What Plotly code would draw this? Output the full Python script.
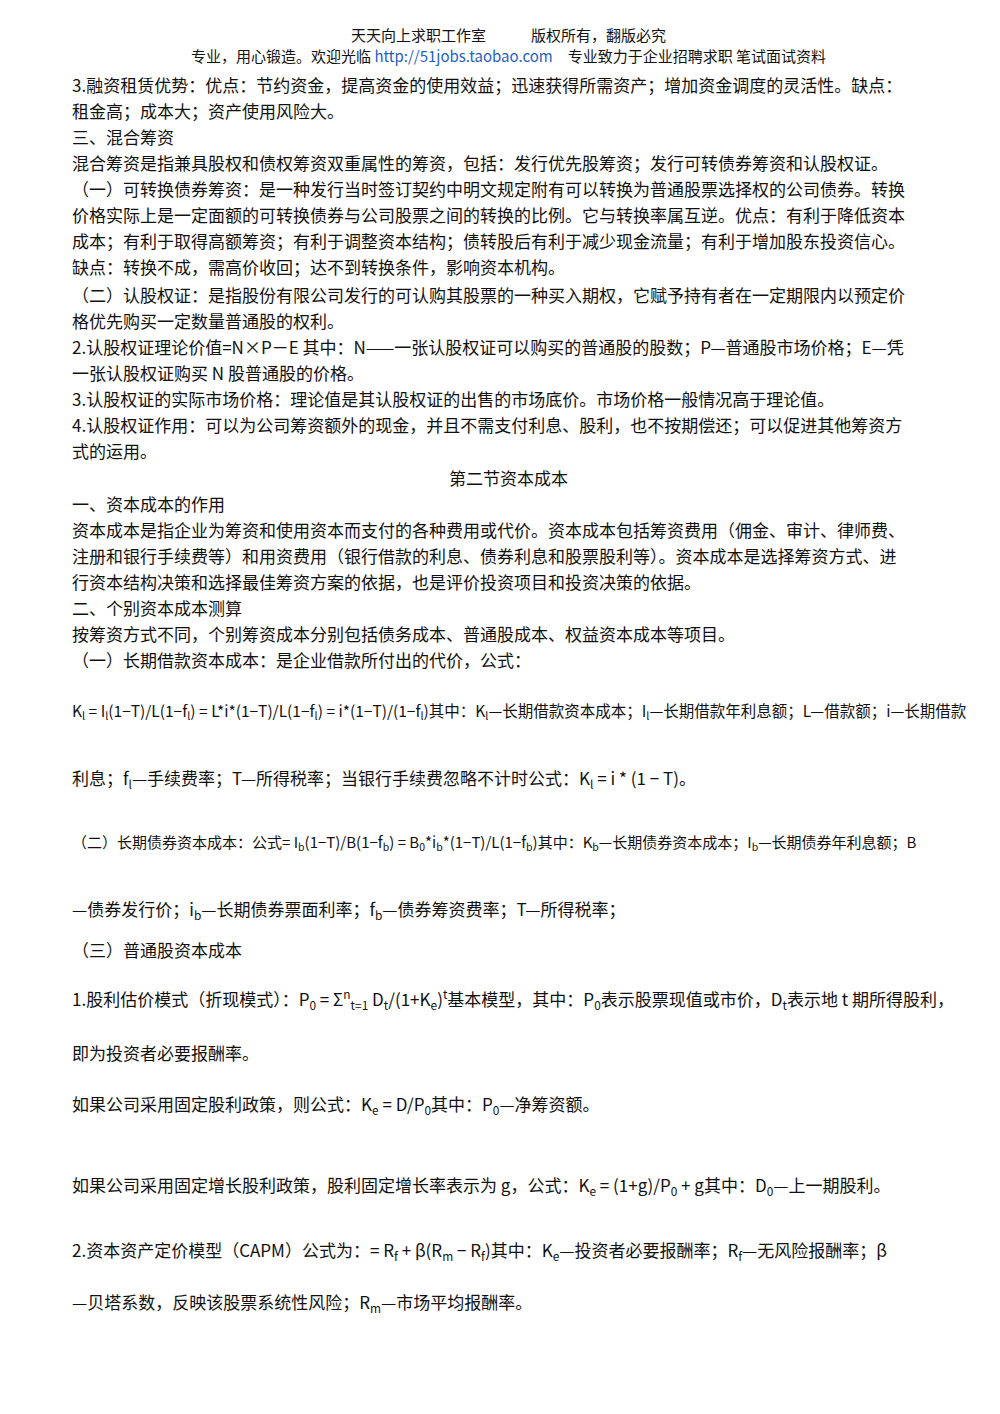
import plotly.graph_objects as go

# page header
header_lines = [
    "天天向上求职工作室　　　版权所有，翻版必究",
    "专业，用心锻造。欢迎光临 <span style='color:#1f5fbf'>http://51jobs.taobao.com</span>　专业致力于企业招聘求职 笔试面试资料",
]
header_y = [35, 56]

# body text lines (left aligned)
body_lines = [
    "3.融资租赁优势：优点：节约资金，提高资金的使用效益；迅速获得所需资产；增加资金调度的灵活性。缺点：",
    "租金高；成本大；资产使用风险大。",
    "三、混合筹资",
    "混合筹资是指兼具股权和债权筹资双重属性的筹资，包括：发行优先股筹资；发行可转债券筹资和认股权证。",
    "（一）可转换债券筹资：是一种发行当时签订契约中明文规定附有可以转换为普通股票选择权的公司债券。转换",
    "价格实际上是一定面额的可转换债券与公司股票之间的转换的比例。它与转换率属互逆。优点：有利于降低资本",
    "成本；有利于取得高额筹资；有利于调整资本结构；债转股后有利于减少现金流量；有利于增加股东投资信心。",
    "缺点：转换不成，需高价收回；达不到转换条件，影响资本机构。",
    "（二）认股权证：是指股份有限公司发行的可认购其股票的一种买入期权，它赋予持有者在一定期限内以预定价",
    "格优先购买一定数量普通股的权利。",
    "2.认股权证理论价值=N×P－E 其中：N——一张认股权证可以购买的普通股的股数；P—普通股市场价格；E—凭",
    "一张认股权证购买 N 股普通股的价格。",
    "3.认股权证的实际市场价格：理论值是其认股权证的出售的市场底价。市场价格一般情况高于理论值。",
    "4.认股权证作用：可以为公司筹资额外的现金，并且不需支付利息、股利，也不按期偿还；可以促进其他筹资方",
    "式的运用。",
    "一、资本成本的作用",
    "资本成本是指企业为筹资和使用资本而支付的各种费用或代价。资本成本包括筹资费用（佣金、审计、律师费、",
    "注册和银行手续费等）和用资费用（银行借款的利息、债券利息和股票股利等）。资本成本是选择筹资方式、进",
    "行资本结构决策和选择最佳筹资方案的依据，也是评价投资项目和投资决策的依据。",
    "二、个别资本成本测算",
    "按筹资方式不同，个别筹资成本分别包括债务成本、普通股成本、权益资本成本等项目。",
    "（一）长期借款资本成本：是企业借款所付出的代价，公式：",
    "K<sub>l</sub> = I<sub>l</sub>(1−T)/L(1−f<sub>l</sub>) = L*i*(1−T)/L(1−f<sub>l</sub>) = i*(1−T)/(1−f<sub>l</sub>)其中：K<sub>l</sub>—长期借款资本成本；I<sub>l</sub>—长期借款年利息额；L—借款额；i—长期借款",
    "利息；f<sub>l</sub>—手续费率；T—所得税率；当银行手续费忽略不计时公式：K<sub>l</sub> = i * (1 − T)。",
    "（二）长期债券资本成本：公式= I<sub>b</sub>(1−T)/B(1−f<sub>b</sub>) = B<sub>0</sub>*i<sub>b</sub>*(1−T)/L(1−f<sub>b</sub>)其中：K<sub>b</sub>—长期债券资本成本；I<sub>b</sub>—长期债券年利息额；B",
    "—债券发行价；i<sub>b</sub>—长期债券票面利率；f<sub>b</sub>—债券筹资费率；T—所得税率；",
    "（三）普通股资本成本",
    "1.股利估价模式（折现模式）：P<sub>0</sub> = Σ<sup>n</sup><sub>t=1</sub> D<sub>t</sub>/(1+K<sub>e</sub>)<sup>t</sup>基本模型，其中：P<sub>0</sub>表示股票现值或市价，D<sub>t</sub>表示地 t 期所得股利，",
    "即为投资者必要报酬率。",
    "如果公司采用固定股利政策，则公式：K<sub>e</sub> = D/P<sub>0</sub>其中：P<sub>0</sub>—净筹资额。",
    "如果公司采用固定增长股利政策，股利固定增长率表示为 g，公式：K<sub>e</sub> = (1+g)/P<sub>0</sub> + g其中：D<sub>0</sub>—上一期股利。",
    "2.资本资产定价模型（CAPM）公式为：= R<sub>f</sub> + β(R<sub>m</sub> − R<sub>f</sub>)其中：K<sub>e</sub>—投资者必要报酬率；R<sub>f</sub>—无风险报酬率；β",
    "—贝塔系数，反映该股票系统性风险；R<sub>m</sub>—市场平均报酬率。",
]
body_y = [85, 111, 137, 163, 189, 215, 241, 267, 295, 321, 347, 373, 399, 425, 451,
          504, 530, 556, 582, 608, 634, 660, 712, 779, 843, 910, 950, 1000, 1053,
          1105, 1186, 1251, 1303]
body_size = [17] * len(body_lines)
body_size[22] = 15.5
body_size[24] = 15

section_title = "第二节资本成本"
section_y = 478

XS, YS = -10, 9

fig = go.Figure()
annotations = []
for txt, y in zip(header_lines, header_y):
    annotations.append(dict(x=500, y=y, text=txt, showarrow=False, xanchor="center",
                            yanchor="middle", xshift=0, yshift=YS,
                            font=dict(size=15, color="#111")))
for txt, y, s in zip(body_lines, body_y, body_size):
    annotations.append(dict(x=72, y=y, text=txt, showarrow=False, xanchor="left",
                            yanchor="middle", xshift=XS, yshift=YS,
                            font=dict(size=s, color="#111")))
annotations.append(dict(x=500, y=section_y, text=section_title, showarrow=False,
                        xanchor="center", yanchor="middle", yshift=YS,
                        font=dict(size=17, color="#111")))

fig.update_layout(
    width=1000, height=1414,
    margin=dict(l=0, r=0, t=0, b=0),
    paper_bgcolor="white", plot_bgcolor="white",
    font=dict(family="Noto Sans CJK SC, Noto Sans, sans-serif"),
    xaxis=dict(range=[0, 1000], visible=False, fixedrange=True),
    yaxis=dict(range=[1414, 0], visible=False, fixedrange=True),
    annotations=annotations,
    showlegend=False,
)
fig.write_html("out.html")
